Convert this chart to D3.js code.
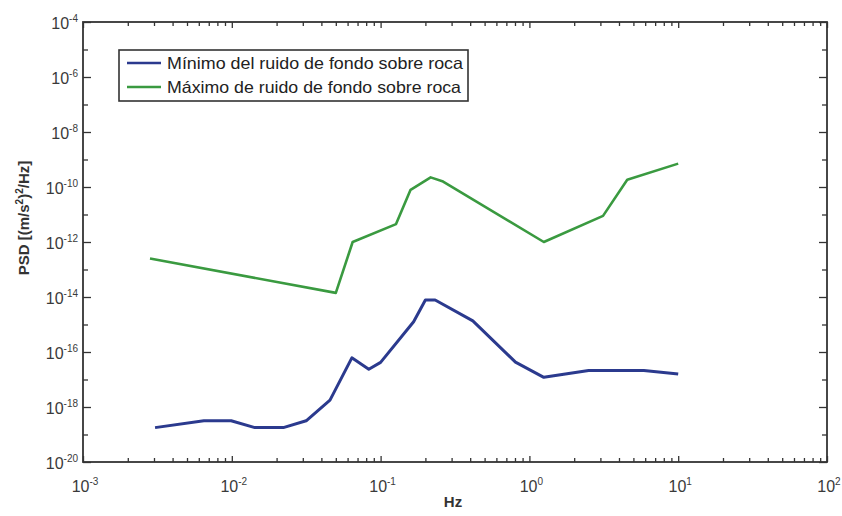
<!DOCTYPE html>
<html>
<head>
<meta charset="utf-8">
<script src="https://cdn.jsdelivr.net/npm/d3@7"></script>
<style>
  html, body { margin: 0; padding: 0; background: #fff; }
  svg { display: block; font-family: "Liberation Sans", Arial, Helvetica, sans-serif; }
</style>
</head>
<body>
<svg id="chart" width="842" height="516"></svg>
<script>
// ---- data ----
const seriesNames = ["Mínimo del ruido de fondo sobre roca", "Máximo de ruido de fondo sobre roca"];

const minFreq = [0.00305, 0.00649, 0.0099, 0.01429, 0.0222, 0.0316, 0.0457, 0.0641, 0.0833, 0.1,
                 0.1667, 0.2, 0.2326, 0.4167, 0.806, 1.25, 2.5, 5.88, 10];
const minPSD  = [1.78e-19, 3.16e-19, 3.16e-19, 1.78e-19, 1.78e-19, 3.16e-19, 1.78e-18, 6.12e-17, 2.37e-17, 4.2e-17,
                 1.26e-15, 7.76e-15, 7.76e-15, 1.36e-15, 4.27e-17, 1.2e-17, 2.14e-17, 2.14e-17, 1.58e-17];

const maxFreq = [0.00282, 0.05, 0.0649, 0.127, 0.159, 0.217, 0.263, 1.25, 3.125, 4.545, 10];
const maxPSD  = [2.5e-13, 1.41e-14, 1.0e-12, 4.47e-12, 7.9e-11, 2.24e-10, 1.58e-10, 1.0e-12, 8.9e-12, 1.82e-10, 7.08e-10];

const xExponents = [-3, -2, -1, 0, 1, 2];
const yExponents = [-20, -18, -16, -14, -12, -10, -8, -6, -4];
const yMinorExponents = [-19, -17, -15, -13, -11, -9, -7, -5];

const xTitle = "Hz";

// ---- layout ----
const W = 842, H = 516;
const L = 83, R = 827, T = 22, B = 462;
const blue = "#2b3a8e", green = "#3a9a40", axisCol = "#333";

const svg = d3.select("#chart");

const x = d3.scaleLog().domain([1e-3, 1e2]).range([L, R]);
const y = d3.scaleLog().domain([1e-20, 1e-4]).range([B, T]);

const xMajor = xExponents.map(e => Math.pow(10, e));
const xMinor = [];
xExponents.slice(0, -1).forEach(e => { for (let k = 2; k <= 9; k++) xMinor.push(k * Math.pow(10, e)); });
const yMajor = yExponents.map(e => Math.pow(10, e));
const yMinor = yMinorExponents.map(e => Math.pow(10, e));

function styleAxis(g) {
  g.select(".domain").remove();
  g.selectAll(".tick line").attr("stroke", axisCol).attr("stroke-width", 1.3);
  g.selectAll(".tick text").remove();
}

// ticks (inward) on all four sides
svg.append("g").attr("transform", `translate(0,${B})`).call(d3.axisBottom(x).tickValues(xMajor).tickSize(-6)).call(styleAxis);
svg.append("g").attr("transform", `translate(0,${B})`).call(d3.axisBottom(x).tickValues(xMinor).tickSize(-4)).call(styleAxis);
svg.append("g").attr("transform", `translate(0,${T})`).call(d3.axisTop(x).tickValues(xMajor).tickSize(-6)).call(styleAxis);
svg.append("g").attr("transform", `translate(0,${T})`).call(d3.axisTop(x).tickValues(xMinor).tickSize(-4)).call(styleAxis);
svg.append("g").attr("transform", `translate(${L},0)`).call(d3.axisLeft(y).tickValues(yMajor).tickSize(-8)).call(styleAxis);
svg.append("g").attr("transform", `translate(${L},0)`).call(d3.axisLeft(y).tickValues(yMinor).tickSize(-5)).call(styleAxis);
svg.append("g").attr("transform", `translate(${R},0)`).call(d3.axisRight(y).tickValues(yMajor).tickSize(-8)).call(styleAxis);
svg.append("g").attr("transform", `translate(${R},0)`).call(d3.axisRight(y).tickValues(yMinor).tickSize(-5)).call(styleAxis);

// frame
svg.append("rect").attr("x", L).attr("y", T).attr("width", R - L).attr("height", B - T)
  .attr("fill", "none").attr("stroke", axisCol).attr("stroke-width", 1.8);

// tick labels with superscript exponents
function powLabel(sel, e) {
  sel.append("tspan").text("10");
  sel.append("tspan").attr("dy", -7).attr("font-size", 10).text(String(e));
}
xExponents.forEach(e => {
  const t = svg.append("text").attr("x", x(Math.pow(10, e)) + 2).attr("y", B + 30)
    .attr("text-anchor", "middle").attr("font-size", 16).attr("fill", "#3a3a3a");
  powLabel(t, e);
});
yExponents.forEach(e => {
  const t = svg.append("text").attr("x", L - 5).attr("y", y(Math.pow(10, e)) + 7)
    .attr("text-anchor", "end").attr("font-size", 16).attr("fill", "#3a3a3a");
  powLabel(t, e);
});

// axis titles
svg.append("text").attr("x", 453).attr("y", 507).attr("text-anchor", "middle")
  .attr("font-size", 15).attr("font-weight", "bold").attr("fill", "#333").text(xTitle);

const yt = svg.append("text").attr("transform", `translate(29,218) rotate(-90)`)
  .attr("text-anchor", "middle").attr("font-size", 15).attr("font-weight", "bold").attr("fill", "#333");
yt.append("tspan").text("PSD [(m/s");
yt.append("tspan").attr("dy", -6).attr("font-size", 10).text("2");
yt.append("tspan").attr("dy", 6).text(")");
yt.append("tspan").attr("dy", -6).attr("font-size", 10).text("2");
yt.append("tspan").attr("dy", 6).text("/Hz]");

// lines
const line = d3.line().x(d => x(d[0])).y(d => y(d[1]));
const maxData = maxFreq.map((f, i) => [f, maxPSD[i]]);
const minData = minFreq.map((f, i) => [f, minPSD[i]]);

svg.append("path").datum(maxData).attr("d", line).attr("fill", "none")
  .attr("stroke", green).attr("stroke-width", 2.6).attr("stroke-linejoin", "round");
svg.append("path").datum(minData).attr("d", line).attr("fill", "none")
  .attr("stroke", blue).attr("stroke-width", 3).attr("stroke-linejoin", "round");

// legend
const lg = svg.append("g");
lg.append("rect").attr("x", 119).attr("y", 50).attr("width", 349).attr("height", 51)
  .attr("fill", "#fff").attr("stroke", axisCol).attr("stroke-width", 1.6);
[[blue, 63], [green, 87]].forEach(([c, yy], i) => {
  lg.append("line").attr("x1", 127).attr("x2", 161).attr("y1", yy).attr("y2", yy)
    .attr("stroke", c).attr("stroke-width", 2.6);
  lg.append("text").attr("x", 167).attr("y", yy + 6).attr("font-size", 16.5).attr("fill", "#222")
    .attr("textLength", i === 0 ? 296 : 294).attr("lengthAdjust", "spacingAndGlyphs")
    .text(seriesNames[i]);
});
</script>
</body>
</html>
